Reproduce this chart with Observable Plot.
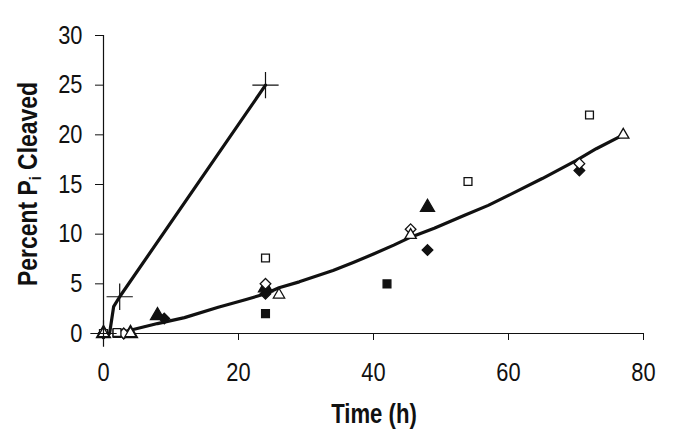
<!DOCTYPE html>
<html><head><meta charset="utf-8">
<script src="https://cdn.jsdelivr.net/npm/d3@7"></script>
<script src="https://cdn.jsdelivr.net/npm/@observablehq/plot@0.6"></script>
<style>
body{margin:0;background:#fff}
#chart svg{display:block}
</style>
</head><body><div id="chart"></div>
<script>
// Tick values
const xTicks = [0, 20, 40, 60, 80];
const yTicks = [0, 5, 10, 15, 20, 25, 30];

// Series (time in h, percent Pi cleaved)
const filledDiamondX = [0, 3, 9, 24, 48, 70.5];
const filledDiamondY = [0, 0, 1.5, 4.0, 8.4, 16.4];
const filledSquareX = [0, 2, 24, 42];
const filledSquareY = [0, 0, 2.0, 5.0];
const filledTriangleX = [0, 4, 8, 24, 48];
const filledTriangleY = [0, 0, 1.8, 4.6, 12.7];
const openDiamondX = [0, 3, 24, 45.5, 70.5];
const openDiamondY = [0, 0, 5.0, 10.5, 17.1];
const openSquareX = [0, 2, 24, 54, 72];
const openSquareY = [0, 0.1, 7.6, 15.3, 22.0];
const openTriangleX = [0, 4, 26, 45.5, 77];
const openTriangleY = [0, 0, 3.9, 9.9, 20.0];
const plusX = [0, 2.4, 24];
const plusY = [0, 3.7, 25];

// Fitted curves
const fastLineX = [0.9, 1.5, 2.4, 24];
const fastLineY = [0, 2.7, 3.7, 25];
const slowLineX = [2, 5, 8, 12, 17, 21, 24, 26, 29, 34, 37, 40, 43, 45.5, 49, 53.5, 57, 60, 65, 70, 73, 77];
const slowLineY = [0, 0.5, 1.0, 1.6, 2.65, 3.4, 4.0, 4.6, 5.2, 6.35, 7.15, 8.0, 8.9, 9.7, 10.6, 11.9, 12.9, 13.9, 15.6, 17.4, 18.6, 20.0];

const xTitle = "Time (h)";
const yTitleMain = "Percent P";
const yTitleSub = "i";
const yTitleRest = " Cleaved";

function toRows(xs, ys, extra) { return xs.map((x, i) => ({x, y: ys[i], ...extra})); }

const series = [
  toRows(filledDiamondX, filledDiamondY, {symbol: "diamond2", fill: "#111", r: 4.8}),
  toRows(filledSquareX, filledSquareY, {symbol: "square", fill: "#111", r: 4.4}),
  toRows(filledTriangleX, filledTriangleY, {symbol: "triangle", fill: "#111", r: 5.2}),
  toRows(openDiamondX, openDiamondY, {symbol: "diamond2", fill: "#fff", r: 4.8}),
  toRows(openSquareX, openSquareY, {symbol: "square2", fill: "#fff", r: 5.0}),
  toRows(openTriangleX, openTriangleY, {symbol: "triangle2", fill: "#fff", r: 5.4}),
];

const font = "'Liberation Sans', Arial, Helvetica, sans-serif";

const marks = [
  Plot.ruleY([0], {stroke: "#111", strokeWidth: 1.2}),
  Plot.ruleX([0], {stroke: "#111", strokeWidth: 1.2}),
  Plot.axisX(xTicks, {tickSize: 7, tickPadding: 22, fontSize: 26, stroke: "#111", label: null}),
  Plot.axisY(yTicks, {tickSize: 8, tickPadding: 13, fontSize: 26, stroke: "#111", label: null}),
  Plot.line(toRows(slowLineX, slowLineY, {}), {x: "x", y: "y", stroke: "#111", strokeWidth: 3.2, strokeLinejoin: "round"}),
  Plot.line(toRows(fastLineX, fastLineY, {}), {x: "x", y: "y", stroke: "#111", strokeWidth: 3.2, strokeLinejoin: "round"}),
];
for (const s of series) {
  marks.push(Plot.dot(s, {x: "x", y: "y", symbol: "symbol", fill: "fill", stroke: "#111", strokeWidth: 1.3, r: "r"}));
}
marks.push(Plot.dot(toRows(plusX, plusY, {}), {x: "x", y: "y", symbol: "plus", stroke: "#111", strokeWidth: 1.2, r: 8.5}));

const chart = Plot.plot({
  width: 681,
  height: 436,
  marginLeft: 103,
  marginRight: 38,
  marginTop: 35,
  marginBottom: 103,
  style: {fontFamily: font, background: "#fff", color: "#111", overflow: "visible"},
  x: {domain: [0, 80], range: [103, 643]},
  y: {domain: [0, 30], range: [333, 35]},
  symbol: {type: "identity"},
  r: {type: "identity"},
  marks
});
document.getElementById("chart").appendChild(chart);

const svg = d3.select(chart);
// condense tick labels horizontally (narrow Helvetica look)
svg.selectAll('g[aria-label="x-axis tick label"] text, g[aria-label="y-axis tick label"] text').each(function() {
  const t = this.getAttribute("transform") || "";
  this.setAttribute("transform", t + " scale(0.84,1)");
});
svg.append("text")
  .attr("transform", "translate(374,423) scale(0.82,1)")
  .attr("text-anchor", "middle")
  .attr("font-family", font).attr("font-weight", "bold").attr("font-size", 27).attr("fill", "#111")
  .text(xTitle);
const yt = svg.append("text")
  .attr("transform", "translate(37,184) rotate(-90) scale(0.85,1)")
  .attr("text-anchor", "middle")
  .attr("font-family", font).attr("font-weight", "bold").attr("font-size", 27).attr("fill", "#111");
yt.append("tspan").text(yTitleMain);
yt.append("tspan").attr("font-size", 17).attr("dy", 4).text(yTitleSub);
yt.append("tspan").attr("dy", -4).text(yTitleRest);
</script>
</body></html>
